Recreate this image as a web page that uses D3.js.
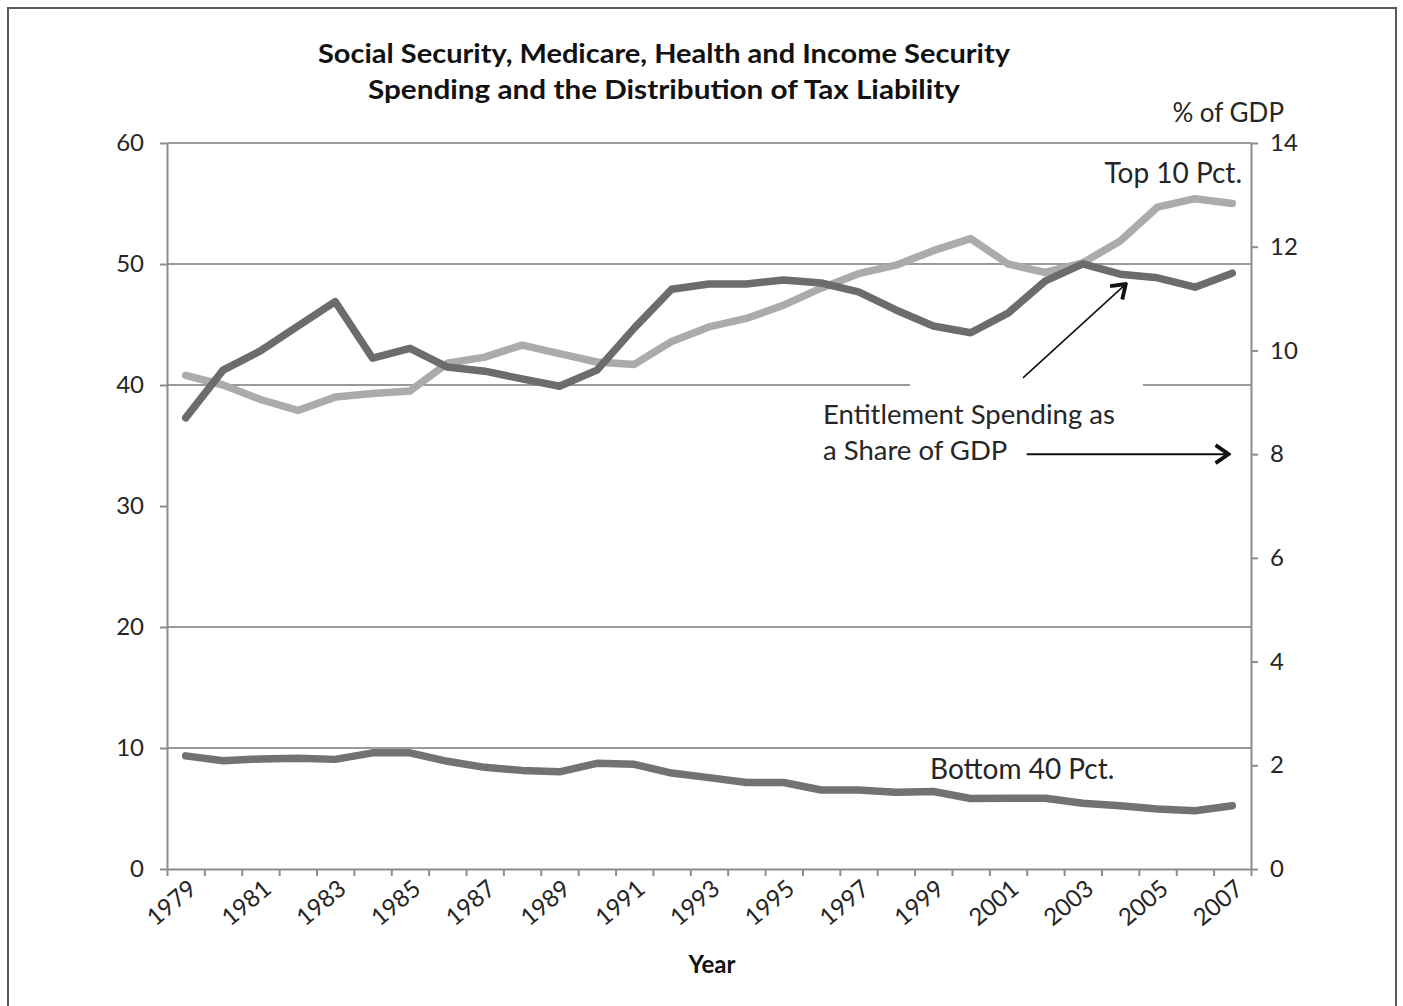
<!DOCTYPE html>
<html>
<head>
<meta charset="utf-8">
<script src="https://cdn.jsdelivr.net/npm/d3@7"></script>
<style>
  html, body { margin: 0; padding: 0; background: #fff; }
  svg { display: block; }
  text { font-family: Lato, "Open Sans", sans-serif; }
</style>
</head>
<body>
<svg id="chart" width="1403" height="1006"></svg>
<script>
// ---------------- data ----------------
const years = [1979, 1980, 1981, 1982, 1983, 1984, 1985, 1986, 1987, 1988,
               1989, 1990, 1991, 1992, 1993, 1994, 1995, 1996, 1997, 1998,
               1999, 2000, 2001, 2002, 2003, 2004, 2005, 2006, 2007];
// share of tax liability, top 10 percent (left axis)
const top10 = [40.8, 40.0, 38.8, 37.9, 39.0, 39.3, 39.5, 41.8, 42.3, 43.3,
               42.6, 41.9, 41.7, 43.6, 44.8, 45.5, 46.6, 48.0, 49.2, 49.9,
               51.1, 52.1, 50.0, 49.3, 50.1, 51.9, 54.7, 55.4, 55.0];
// share of tax liability, bottom 40 percent (left axis)
const bottom40 = [9.35, 8.95, 9.1, 9.15, 9.06, 9.6, 9.6, 8.9, 8.4, 8.15,
                  8.03, 8.73, 8.65, 7.93, 7.55, 7.15, 7.15, 6.53, 6.53, 6.35,
                  6.4, 5.83, 5.85, 5.85, 5.43, 5.23, 4.96, 4.82, 5.23];
// entitlement spending, % of GDP (right axis)
const entitlement = [8.70, 9.62, 9.99, 10.47, 10.94, 9.85, 10.04, 9.68, 9.60, 9.45,
                     9.31, 9.62, 10.43, 11.18, 11.28, 11.28, 11.36, 11.30, 11.13, 10.78,
                     10.47, 10.34, 10.72, 11.34, 11.67, 11.47, 11.40, 11.22, 11.49];

const leftTicks = [0, 10, 20, 30, 40, 50, 60];
const gridValues = [10, 20, 40, 50, 60];
const rightTicks = [0, 2, 4, 6, 8, 10, 12, 14];
const yearLabels = [1979, 1981, 1983, 1985, 1987, 1989, 1991, 1993, 1995, 1997, 1999, 2001, 2003, 2005, 2007];

const titleLines = ["Social Security, Medicare, Health and Income Security",
                    "Spending and the Distribution of Tax Liability"];
const annotationLines = ["Entitlement Spending as", "a Share of GDP"];

// ---------------- layout ----------------
const svg = d3.select("#chart");
const L = 167, R = 1251, T = 143, B = 869;

const x = d3.scaleLinear().domain([years[0] - 0.5, years[years.length - 1] + 0.5]).range([L, R]);
const yL = d3.scaleLinear().domain([0, 60]).range([B, T]);
const yR = d3.scaleLinear().domain([0, 14]).range([B, T]);

const gridColor = "#9a9a9a";
const axisColor = "#8c8c8c";
const textColor = "#262626";

// frame
svg.append("rect").attr("x", 8).attr("y", 8).attr("width", 1388).attr("height", 1010)
  .attr("fill", "none").attr("stroke", "#5a5a5a").attr("stroke-width", 2);

// gridlines
svg.append("g").selectAll("line").data(gridValues).join("line")
  .attr("x1", L).attr("x2", R)
  .attr("y1", d => yL(d)).attr("y2", d => yL(d))
  .attr("stroke", gridColor).attr("stroke-width", 2);

// gap in the 40 gridline behind the annotation box
svg.append("rect")
  .attr("x", 910).attr("y", yL(40) - 4)
  .attr("width", 1143 - 910).attr("height", 8).attr("fill", "#fff");

// left axis
const gL = svg.append("g").attr("transform", `translate(${L},0)`)
  .call(d3.axisLeft(yL).tickValues(leftTicks).tickSize(7).tickSizeOuter(0).tickPadding(16));
gL.select(".domain").attr("stroke", axisColor).attr("stroke-width", 2);
gL.selectAll(".tick line").attr("stroke", axisColor).attr("stroke-width", 2);
gL.selectAll(".tick text").attr("fill", textColor).style("font-size", "24px");

// right axis
const gR = svg.append("g").attr("transform", `translate(${R},0)`)
  .call(d3.axisRight(yR).tickValues(rightTicks).tickSize(7).tickSizeOuter(0).tickPadding(12));
gR.select(".domain").attr("stroke", axisColor).attr("stroke-width", 2);
gR.selectAll(".tick line").attr("stroke", axisColor).attr("stroke-width", 2);
gR.selectAll(".tick text").attr("fill", textColor).style("font-size", "24px");

// bottom axis: ticks between categories
const boundaries = years.map(y => y - 0.5).concat([years[years.length - 1] + 0.5]);
const gB = svg.append("g").attr("transform", `translate(0,${B})`)
  .call(d3.axisBottom(x).tickValues(boundaries).tickFormat("").tickSize(7).tickSizeOuter(0));
gB.select(".domain").attr("stroke", axisColor).attr("stroke-width", 2);
gB.selectAll(".tick line").attr("stroke", axisColor).attr("stroke-width", 2);

// year labels (rotated)
const gBL = svg.append("g").attr("transform", `translate(0,${B})`)
  .call(d3.axisBottom(x).tickValues(yearLabels).tickFormat(d3.format("d")).tickSize(0));
gBL.select(".domain").remove();
gBL.selectAll(".tick text")
  .attr("fill", textColor).style("font-size", "24px")
  .attr("text-anchor", "end").attr("dy", 0)
  .attr("transform", "translate(10,20) rotate(-40)");

// lines
const lineL = d3.line().x((d, i) => x(years[i])).y(d => yL(d));
const lineR = d3.line().x((d, i) => x(years[i])).y(d => yR(d));

svg.append("path").datum(top10).attr("d", lineL)
  .attr("fill", "none").attr("stroke", "#ababab").attr("stroke-width", 7.5)
  .attr("stroke-linejoin", "round").attr("stroke-linecap", "round");
svg.append("path").datum(entitlement).attr("d", lineR)
  .attr("fill", "none").attr("stroke", "#6c6c6c").attr("stroke-width", 7.5)
  .attr("stroke-linejoin", "round").attr("stroke-linecap", "round");
svg.append("path").datum(bottom40).attr("d", lineL)
  .attr("fill", "none").attr("stroke", "#727272").attr("stroke-width", 7.5)
  .attr("stroke-linejoin", "round").attr("stroke-linecap", "round");

// title
svg.append("g").selectAll("text").data(titleLines).join("text")
  .attr("x", 664).attr("y", (d, i) => 63 + i * 36)
  .attr("text-anchor", "middle").attr("fill", "#111")
  .style("font-size", "26px").style("font-weight", "bold")
  .attr("textLength", (d, i) => i === 0 ? 692 : 592)
  .attr("lengthAdjust", "spacingAndGlyphs")
  .text(d => d);

// axis titles
svg.append("text").attr("x", 1284).attr("y", 122).attr("text-anchor", "end")
  .attr("fill", textColor).style("font-size", "26px").text("% of GDP");
svg.append("text").attr("x", 712).attr("y", 973).attr("text-anchor", "middle")
  .attr("fill", "#111").style("font-size", "24px").style("font-weight", "bold").text("Year");

// series labels
svg.append("text").attr("x", 1242).attr("y", 183).attr("text-anchor", "end")
  .attr("fill", textColor).style("font-size", "28px").text("Top 10 Pct.");
svg.append("text").attr("x", 930).attr("y", 779)
  .attr("fill", textColor).style("font-size", "28px").text("Bottom 40 Pct.");

// annotation
svg.append("g").selectAll("text").data(annotationLines).join("text")
  .attr("x", 823).attr("y", (d, i) => 424 + i * 36)
  .attr("fill", textColor).style("font-size", "27.5px").text(d => d);

// arrows
const defs = svg.append("defs");
defs.append("marker").attr("id", "arrow").attr("viewBox", "-16 -11 18 22")
  .attr("refX", 0).attr("refY", 0).attr("markerWidth", 18).attr("markerHeight", 22)
  .attr("markerUnits", "userSpaceOnUse").attr("orient", "auto")
  .append("path").attr("d", "M-13,-9 L0,0 L-13,9")
  .attr("fill", "none").attr("stroke", "#111").attr("stroke-width", 3.8)
  .attr("stroke-linejoin", "miter");

// arrow pointing at the entitlement line
svg.append("line")
  .attr("x1", x(2001.4)).attr("y1", yR(9.47))
  .attr("x2", x(2004.15)).attr("y2", yR(11.28))
  .attr("stroke", "#111").attr("stroke-width", 1.6).attr("marker-end", "url(#arrow)");
// arrow pointing at the right axis
svg.append("line")
  .attr("x1", x(2001.5)).attr("y1", yR(8))
  .attr("x2", x(2006.9)).attr("y2", yR(8))
  .attr("stroke", "#111").attr("stroke-width", 2).attr("marker-end", "url(#arrow)");
</script>
</body>
</html>
